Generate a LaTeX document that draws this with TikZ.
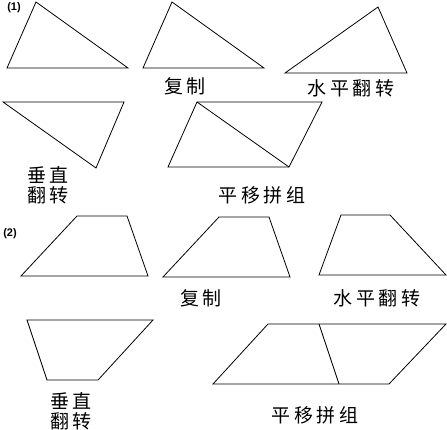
\documentclass[tikz,border=0pt]{standalone}
\usepackage{fontspec}
\newfontfamily\cjk[LetterSpace=18]{Noto Sans CJK SC}
\newfontfamily\numfont{Liberation Sans}
\begin{document}
\begin{tikzpicture}[x=1pt,y=-1pt,
  shp/.style={draw=black, line width=0.8pt, line join=miter},
  lab/.style={font=\cjk\fontsize{19}{20}\selectfont, inner sep=0pt, align=center},
  num/.style={font=\numfont\bfseries\fontsize{11}{12}\selectfont, inner sep=0pt}]
\useasboundingbox[fill=white] (0,0) rectangle (447,430);
% ---- part (1)
\node[num] (n1) at (14,8) {(1)};
\draw[shp] (7,68) -- (128,68) -- (36,2) -- cycle;
\draw[shp] (143,68) -- (264,68) -- (172,2) -- cycle;
\node[lab] (l1) at (185,86) {复制};
\draw[shp] (285,73) -- (407,73) -- (378,7) -- cycle;
\node[lab] (l2) at (351,88) {水平翻转};
\draw[shp] (3,102) -- (124,102) -- (96,168) -- cycle;
\node[lab] (l3) at (48,185) {垂直\\翻转};
\draw[shp] (168,167) -- (289,167) -- (322,102) -- (197,102) -- cycle;
\draw[shp] (197,102) -- (289,167);
\node[lab] (l4) at (262,195) {平移拼组};
% ---- part (2)
\node[num] (n2) at (10,234) {(2)};
\draw[shp] (21,276) -- (148,276) -- (127,216) -- (77,216) -- cycle;
\draw[shp] (163,277) -- (290,277) -- (269,217) -- (219,217) -- cycle;
\node[lab] (l5) at (201,298) {复制};
\draw[shp] (319,275) -- (446,275) -- (390,215) -- (341,215) -- cycle;
\node[lab] (l6) at (377,298) {水平翻转};
\draw[shp] (27,320) -- (153,320) -- (98,380) -- (47,380) -- cycle;
\node[lab] (l7) at (71,411) {垂直\\翻转};
\draw[shp] (213,384) -- (389,384) -- (446,324) -- (268,324) -- cycle;
\draw[shp] (319,324) -- (339,384);
\node[lab] (l8) at (315,415) {平移拼组};
\end{tikzpicture}
\end{document}
